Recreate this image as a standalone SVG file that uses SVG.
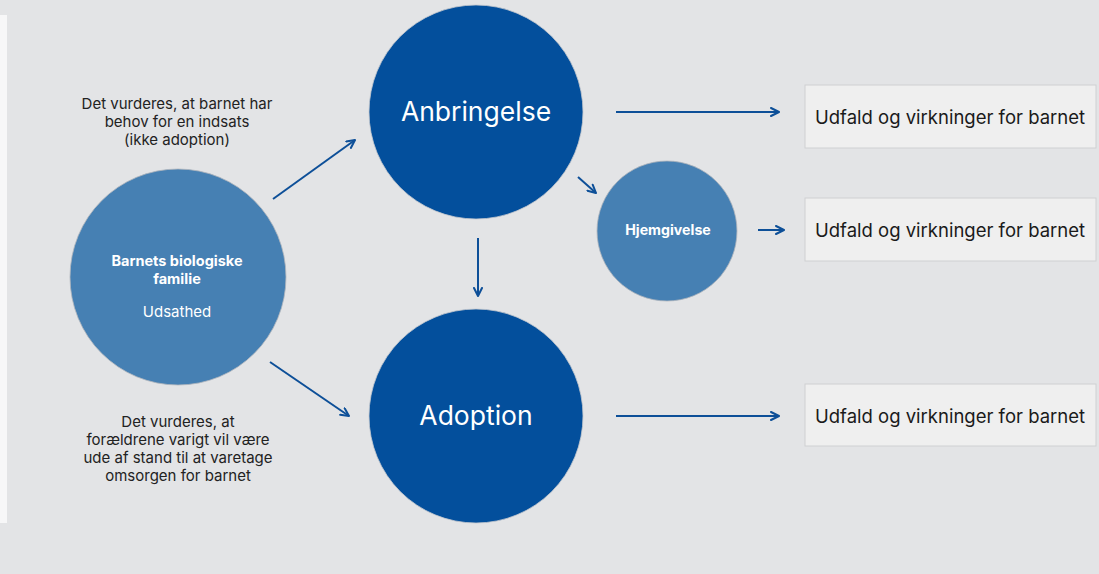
<svg xmlns="http://www.w3.org/2000/svg" width="1099" height="574" viewBox="0 0 1099 574">
<defs>
<marker id="ah" viewBox="0 0 10 10" refX="9" refY="5" markerWidth="10" markerHeight="10" markerUnits="userSpaceOnUse" orient="auto">
<path d="M1,1 L9,5 L1,9" fill="none" stroke="#0d4f98" stroke-width="2" stroke-linecap="round" stroke-linejoin="round"/>
</marker>
</defs>
<style>
.bg{fill:#e3e4e6}
.conn line{stroke:#0d4f98;stroke-width:2;marker-end:url(#ah)}
.dark{fill:#034f9c;stroke:#c4c8ce;stroke-width:0.8}
.light{fill:#4680b3;stroke:#b0b5bd;stroke-width:0.8}
.box{fill:#efefef;stroke:#cfd0d2;stroke-width:1}
.lbl{font-family:Inter,"Liberation Sans",sans-serif;fill:#222;text-anchor:middle;font-size:15px}
.out{font-family:Inter,"Liberation Sans",sans-serif;fill:#1a1a1a;font-size:18.5px}
.wt{font-family:Inter,"Liberation Sans",sans-serif;fill:#fff;text-anchor:middle}
</style>
<rect class="bg" x="0" y="0" width="1099" height="574"/>
<rect x="0" y="15" width="7" height="508" fill="#f7f7f8"/>
<g id="conn" class="conn">
<line x1="273" y1="199" x2="355" y2="140"/>
<line x1="270" y1="362" x2="349" y2="416"/>
<line x1="478" y1="238" x2="478" y2="296"/>
<line x1="578" y1="177" x2="596" y2="193"/>
<line x1="616" y1="112" x2="779" y2="112"/>
<line x1="758" y1="230" x2="784" y2="230"/>
<line x1="616" y1="416" x2="779" y2="416"/>
</g>
<g id="family">
<circle class="light" cx="178" cy="277" r="108"/>
<text class="wt" x="177" y="266" font-size="14.5" font-weight="bold">Barnets biologiske</text>
<text class="wt" x="177" y="284" font-size="14.5" font-weight="bold">familie</text>
<text class="wt" x="177" y="317" font-size="15">Udsathed</text>
</g>
<g id="anbringelse">
<circle class="dark" cx="476" cy="112" r="107"/>
<text class="wt" x="476" y="121" font-size="26.5">Anbringelse</text>
</g>
<g id="adoption">
<circle class="dark" cx="476" cy="416" r="107"/>
<text class="wt" x="476" y="425" font-size="26.5">Adoption</text>
</g>
<g id="hjemgivelse">
<circle class="light" cx="667" cy="231" r="70"/>
<text class="wt" x="668" y="235" font-size="14.2" font-weight="bold">Hjemgivelse</text>
</g>
<g id="label-top">
<text class="lbl" x="177" y="109">Det vurderes, at barnet har</text>
<text class="lbl" x="177" y="127">behov for en indsats</text>
<text class="lbl" x="177" y="145">(ikke adoption)</text>
</g>
<g id="label-bottom">
<text class="lbl" x="178" y="427">Det vurderes, at</text>
<text class="lbl" x="178" y="445">forældrene varigt vil være</text>
<text class="lbl" x="178" y="463">ude af stand til at varetage</text>
<text class="lbl" x="178" y="481">omsorgen for barnet</text>
</g>
<g id="out1">
<rect class="box" x="805" y="85" width="291" height="63"/>
<text class="out" x="815" y="124">Udfald og virkninger for barnet</text>
</g>
<g id="out2">
<rect class="box" x="805" y="198" width="291" height="63"/>
<text class="out" x="815" y="237">Udfald og virkninger for barnet</text>
</g>
<g id="out3">
<rect class="box" x="805" y="384" width="291" height="62"/>
<text class="out" x="815" y="423">Udfald og virkninger for barnet</text>
</g>
</svg>
